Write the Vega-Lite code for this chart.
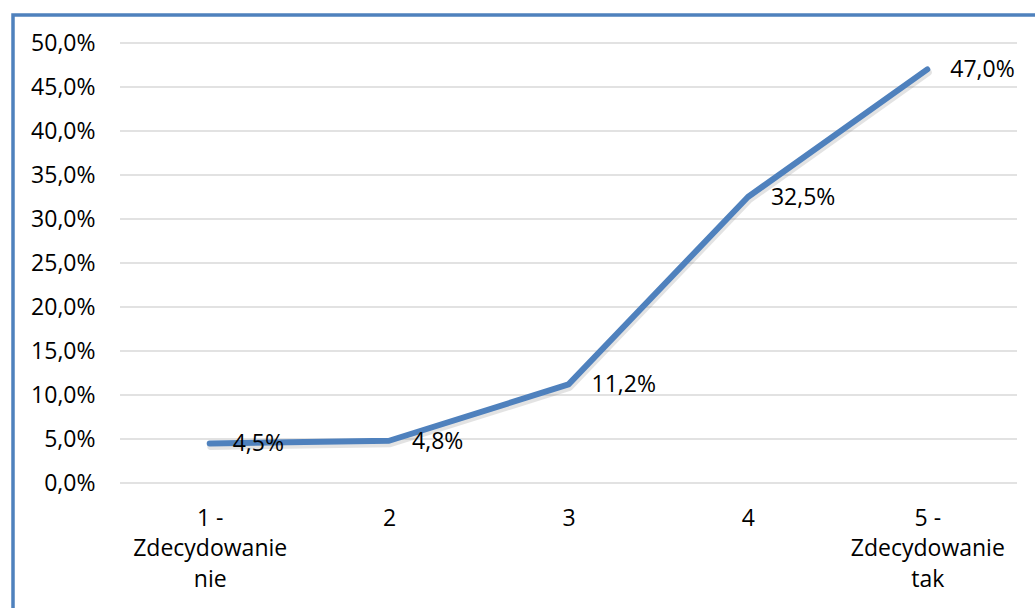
{
  "$schema": "https://vega.github.io/schema/vega-lite/v6.json",
  "autosize": "none",
  "padding": {"left": 13, "top": 15, "right": 0, "bottom": 0},
  "width": 1022,
  "height": 593,
  "background": "white",
  "config": {
    "locale": {
      "number": {"decimal": ",", "thousands": "\u00a0", "grouping": [3], "currency": ["", " zł"], "percent": "%"}
    },
    "view": {"stroke": "#4F81BD", "strokeWidth": 3.5, "strokeDash": [1022, 1615, 593]},
    "font": "Open Sans",
    "axisY": {
      "orient": "left", "offset": -82, "domain": false, "ticks": false, "tickSize": 0,
      "labelPadding": 0, "grid": false, "labelFontSize": 23, "labelColor": "#000000", "labelFont": "Open Sans"
    },
    "axisX": {
      "orient": "bottom", "offset": -125, "domain": false, "ticks": false, "tickSize": 0,
      "labelPadding": 24, "grid": false, "labelFontSize": 23, "labelLineHeight": 30.5, "labelColor": "#000000",
      "labelFont": "Open Sans", "labelAlign": "center", "labelBaseline": "top", "labelFlush": false, "labelOverlap": false
    }
  },
  "datasets": {
    "wyniki": [
      {"poz": 1, "odpowiedz": "1 - Zdecydowanie nie", "udzial": 0.045},
      {"poz": 2, "odpowiedz": "2", "udzial": 0.048},
      {"poz": 3, "odpowiedz": "3", "udzial": 0.112},
      {"poz": 4, "odpowiedz": "4", "udzial": 0.325},
      {"poz": 5, "odpowiedz": "5 - Zdecydowanie tak", "udzial": 0.47}
    ],
    "siatka": [
      {"udzial": 0}, {"udzial": 0.05}, {"udzial": 0.1}, {"udzial": 0.15}, {"udzial": 0.2}, {"udzial": 0.25},
      {"udzial": 0.3}, {"udzial": 0.35}, {"udzial": 0.4}, {"udzial": 0.45}, {"udzial": 0.5}
    ]
  },
  "layer": [
    {
      "data": {"name": "siatka"},
      "mark": {"type": "rule", "color": "#D9D9D9", "strokeWidth": 1.5},
      "encoding": {
        "x": {"datum": 0.5, "type": "quantitative", "scale": {"domain": [0.5, 5.5], "range": [107, 1004]}, "title": null,
          "axis": {"title": null, "values": [1, 2, 3, 4, 5], "format": "d",
            "labelExpr": "datum.value == 1 ? ['1 -', 'Zdecydowanie', 'nie'] : datum.value == 5 ? ['5 -', 'Zdecydowanie', 'tak'] : '' + datum.value"}},
        "x2": {"datum": 5.5},
        "y": {
          "field": "udzial", "type": "quantitative", "title": null,
          "scale": {"domain": [0, 0.5], "range": [468, 28]},
          "axis": {"title": null, "values": [0, 0.05, 0.1, 0.15, 0.2, 0.25, 0.3, 0.35, 0.4, 0.45, 0.5], "format": ".1%"}
        }
      }
    },
    {
      "data": {"name": "wyniki"},
      "encoding": {
        "x": {
          "field": "poz", "type": "quantitative",
          "scale": {"domain": [0.5, 5.5], "range": [107, 1004]},
          "axis": {
            "title": null, "values": [1, 2, 3, 4, 5], "format": "d",
            "labelExpr": "datum.value == 1 ? ['1 -', 'Zdecydowanie', 'nie'] : datum.value == 5 ? ['5 -', 'Zdecydowanie', 'tak'] : '' + datum.value"
          }
        },
        "y": {
          "field": "udzial", "type": "quantitative",
          "scale": {"domain": [0, 0.5], "range": [468, 28]},
          "axis": {"title": null, "values": [0, 0.05, 0.1, 0.15, 0.2, 0.25, 0.3, 0.35, 0.4, 0.45, 0.5], "format": ".1%"}
        }
      },
      "layer": [
        {
          "mark": {"type": "line", "stroke": "#7f7f7f", "opacity": 0.22, "strokeWidth": 7, "strokeCap": "round", "strokeJoin": "round", "yOffset": 3, "xOffset": 1}
        },
        {
          "mark": {"type": "line", "stroke": "#4F81BD", "strokeWidth": 6, "strokeCap": "round", "strokeJoin": "round"}
        },
        {
          "mark": {"type": "text", "align": "left", "baseline": "middle", "dx": 23, "dy": 1, "fontSize": 23, "color": "#000000", "font": "Open Sans"},
          "encoding": {
            "text": {"field": "udzial", "type": "quantitative", "format": ".1%"}
          }
        }
      ]
    }
  ]
}
